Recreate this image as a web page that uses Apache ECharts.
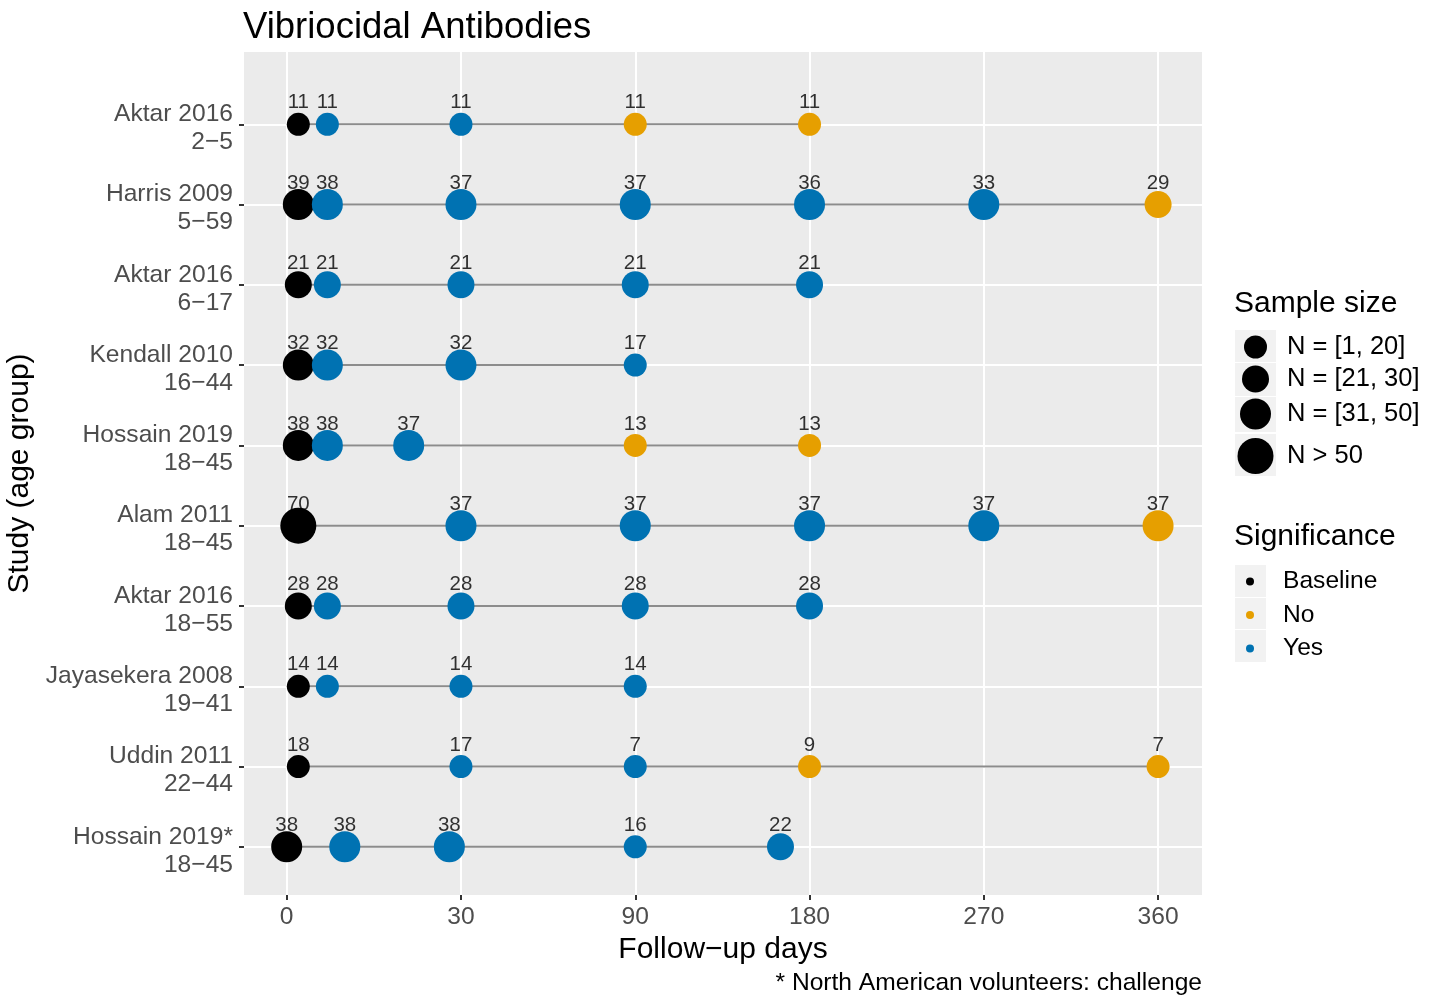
<!DOCTYPE html>
<html>
<head>
<meta charset="utf-8">
<title>Vibriocidal Antibodies</title>
<script src="https://cdn.jsdelivr.net/npm/echarts@6/dist/echarts.min.js"></script>
<style>
  html, body { margin: 0; padding: 0; background: #ffffff; }
  #chart { width: 1439px; height: 995px; }
</style>
</head>
<body>
<div id="chart"></div>
<script>
// studies, listed top to bottom as in the figure
const studyNames = ['Aktar 2016', 'Harris 2009', 'Aktar 2016', 'Kendall 2010', 'Hossain 2019',
  'Alam 2011', 'Aktar 2016', 'Jayasekera 2008', 'Uddin 2011', 'Hossain 2019*'];
const ageGroups = ['2−5', '5−59', '6−17', '16−44', '18−45', '18−45', '18−55', '19−41', '22−44', '18−45'];

const followUpDays = [
  [2, 7, 30, 90, 180],
  [2, 7, 30, 90, 180, 270, 360],
  [2, 7, 30, 90, 180],
  [2, 7, 30, 90],
  [2, 7, 21, 90, 180],
  [2, 30, 90, 180, 270, 360],
  [2, 7, 30, 90, 180],
  [2, 7, 30, 90],
  [2, 30, 90, 180, 360],
  [0, 10, 28, 90, 165]
];
const sampleSizes = [
  [11, 11, 11, 11, 11],
  [39, 38, 37, 37, 36, 33, 29],
  [21, 21, 21, 21, 21],
  [32, 32, 32, 17],
  [38, 38, 37, 13, 13],
  [70, 37, 37, 37, 37, 37],
  [28, 28, 28, 28, 28],
  [14, 14, 14, 14],
  [18, 17, 7, 9, 7],
  [38, 38, 38, 16, 22]
];
const significance = [
  ['Baseline', 'Yes', 'Yes', 'No', 'No'],
  ['Baseline', 'Yes', 'Yes', 'Yes', 'Yes', 'Yes', 'No'],
  ['Baseline', 'Yes', 'Yes', 'Yes', 'Yes'],
  ['Baseline', 'Yes', 'Yes', 'Yes'],
  ['Baseline', 'Yes', 'Yes', 'No', 'No'],
  ['Baseline', 'Yes', 'Yes', 'Yes', 'Yes', 'No'],
  ['Baseline', 'Yes', 'Yes', 'Yes', 'Yes'],
  ['Baseline', 'Yes', 'Yes', 'Yes'],
  ['Baseline', 'Yes', 'Yes', 'No', 'No'],
  ['Baseline', 'Yes', 'Yes', 'Yes', 'Yes']
];

const dayTicks = [0, 30, 90, 180, 270, 360];
const sigLevels = ['Baseline', 'No', 'Yes'];
const sizeLabels = ['N = [1, 20]', 'N = [21, 30]', 'N = [31, 50]', 'N > 50'];

const FONT = 'Liberation Sans, Helvetica, Arial, sans-serif';
const sigColors = { Baseline: '#000000', No: '#E69F00', Yes: '#0072B2' };
const symbolSizes = [23, 27, 31, 36];

// follow-up days are drawn on an axis where each break is one step
function dayPos(d) {
  for (let k = 0; k < dayTicks.length - 1; k++) {
    if (d <= dayTicks[k + 1]) {
      return k + (d - dayTicks[k]) / (dayTicks[k + 1] - dayTicks[k]);
    }
  }
  return dayTicks.length - 1;
}
function sizeClass(n) {
  return n <= 20 ? 0 : n <= 30 ? 1 : n <= 50 ? 2 : 3;
}

const nRows = studyNames.length;
const rowIdx = [];
for (let i = 0; i < nRows; i++) rowIdx.push(i);

let points = [];
followUpDays.forEach((days, i) => {
  days.forEach((d, j) => {
    points.push({ value: [dayPos(d), nRows - 1 - i, sampleSizes[i][j]], sig: significance[i][j] });
  });
});

let series = [];
// connecting lines, one per study
followUpDays.forEach((days, i) => {
  series.push({
    type: 'line',
    data: days.map(d => [dayPos(d), nRows - 1 - i]),
    symbol: 'none',
    silent: true,
    z: 1,
    lineStyle: { color: '#8C8C8C', width: 2 }
  });
});
// sample size numbers above the points (drawn under the dots)
series.push({
  type: 'scatter',
  silent: true,
  z: 2,
  symbolSize: 1,
  itemStyle: { color: 'transparent' },
  data: points.map(p => p.value),
  label: {
    show: true,
    position: 'inside',
    offset: [0, -21.5],
    formatter: p => p.value[2],
    color: '#000',
    fontSize: 20.5,
    fontFamily: FONT
  }
});
sigLevels.forEach(s => {
  series.push({
    name: s,
    type: 'scatter',
    z: 3,
    data: points.filter(p => p.sig == s).map(p => p.value),
    symbolSize: v => symbolSizes[sizeClass(v[2])],
    itemStyle: { color: sigColors[s], opacity: 1 }
  });
});
// empty series only for the sample size legend
sizeLabels.forEach(s => {
  series.push({ name: s, type: 'scatter', data: [], itemStyle: { color: '#000', opacity: 1 } });
});

const sizeCenters = [346, 379, 414, 456];
let legends = [{
  data: sigLevels,
  orient: 'vertical',
  left: 1246, top: 569,
  icon: 'circle',
  itemWidth: 8, itemHeight: 8, itemGap: 8.5,
  selectedMode: false,
  padding: 0,
  itemStyle: { opacity: 1 },
  textStyle: { fontSize: 24.6, lineHeight: 24, color: '#000', fontFamily: FONT, padding: [0, 0, 0, 24] }
}];
sizeLabels.forEach((s, k) => {
  const sz = symbolSizes[k];
  legends.push({
    data: [s],
    left: 1255.5 - sz / 2,
    top: sizeCenters[k] - Math.max(sz, 24) / 2,
    icon: 'circle',
    itemWidth: sz, itemHeight: sz,
    selectedMode: false,
    padding: 0,
    itemStyle: { color: '#000', opacity: 1 },
    textStyle: { fontSize: 25.5, lineHeight: 24, color: '#000', fontFamily: FONT, padding: [0, 0, 0, 26.5 - sz / 2] }
  });
});

// legend key backgrounds
const keyBoxes = [
  [1235, 330, 41, 32], [1235, 363, 41, 33], [1235, 397, 41, 35], [1235, 434, 41, 42],
  [1235, 565, 31, 32], [1235, 598, 31, 31], [1235, 630, 31, 32]
];

const chart = echarts.init(document.getElementById('chart'));
chart.setOption({
  animation: false,
  backgroundColor: '#ffffff',
  textStyle: { fontFamily: FONT },
  title: [
    { text: 'Vibriocidal Antibodies', left: 243, top: 9, padding: 0,
      textStyle: { fontSize: 36.5, fontWeight: 'normal', color: '#000', fontFamily: FONT } },
    { text: 'Sample size', left: 1234, top: 289, padding: 0,
      textStyle: { fontSize: 30, fontWeight: 'normal', color: '#000', fontFamily: FONT } },
    { text: 'Significance', left: 1234, top: 522, padding: 0,
      textStyle: { fontSize: 30, fontWeight: 'normal', color: '#000', fontFamily: FONT } },
    { text: '* North American volunteers: challenge', right: 237, top: 971, padding: 0,
      textStyle: { fontSize: 24.6, fontWeight: 'normal', color: '#000', fontFamily: FONT } }
  ],
  graphic: keyBoxes.map(b => ({
    type: 'rect', z: 0,
    shape: { x: b[0], y: b[1], width: b[2], height: b[3] },
    style: { fill: '#F2F2F2' }
  })),
  legend: legends,
  grid: {
    left: 244, right: 237, top: 52, bottom: 100,
    show: true, backgroundColor: '#EBEBEB', borderWidth: 0,
    outerBoundsMode: 'none'
  },
  xAxis: {
    type: 'value',
    min: -0.245, max: 5.252,
    axisLine: { show: false, onZero: false },
    axisTick: { show: true, customValues: [0, 1, 2, 3, 4, 5], length: 5, lineStyle: { color: '#333333', width: 2 } },
    axisLabel: {
      customValues: [0, 1, 2, 3, 4, 5],
      formatter: v => dayTicks[Math.round(v)],
      fontSize: 24.6, color: '#4D4D4D', margin: 10, fontFamily: FONT
    },
    splitLine: { show: true, lineStyle: { color: '#ffffff', width: 2 } },
    name: 'Follow−up days',
    nameLocation: 'middle',
    nameGap: 31,
    nameTextStyle: { fontSize: 30, color: '#000', fontFamily: FONT }
  },
  yAxis: {
    type: 'value',
    min: -0.6, max: 9.9,
    axisLine: { show: false, onZero: false },
    axisTick: { show: true, customValues: rowIdx, length: 5, lineStyle: { color: '#333333', width: 2 } },
    axisLabel: {
      customValues: rowIdx,
      formatter: v => {
        const i = nRows - 1 - Math.round(v);
        return '{a|' + studyNames[i] + '}\n{b|' + ageGroups[i] + '}';
      },
      align: 'right',
      margin: 11,
      rich: {
        a: { fontSize: 24.6, lineHeight: 26, padding: [6, 0, 0, 0], color: '#4D4D4D', fontFamily: FONT, align: 'right' },
        b: { fontSize: 24.6, lineHeight: 26, padding: [10, 0, 0, 0], color: '#4D4D4D', fontFamily: FONT, align: 'right' }
      }
    },
    splitLine: { show: true, lineStyle: { color: '#ffffff', width: 2 } },
    name: 'Study (age group)',
    nameLocation: 'middle',
    nameGap: 201,
    nameTextStyle: { fontSize: 30, color: '#000', fontFamily: FONT }
  },
  series: series
});
</script>
</body>
</html>
